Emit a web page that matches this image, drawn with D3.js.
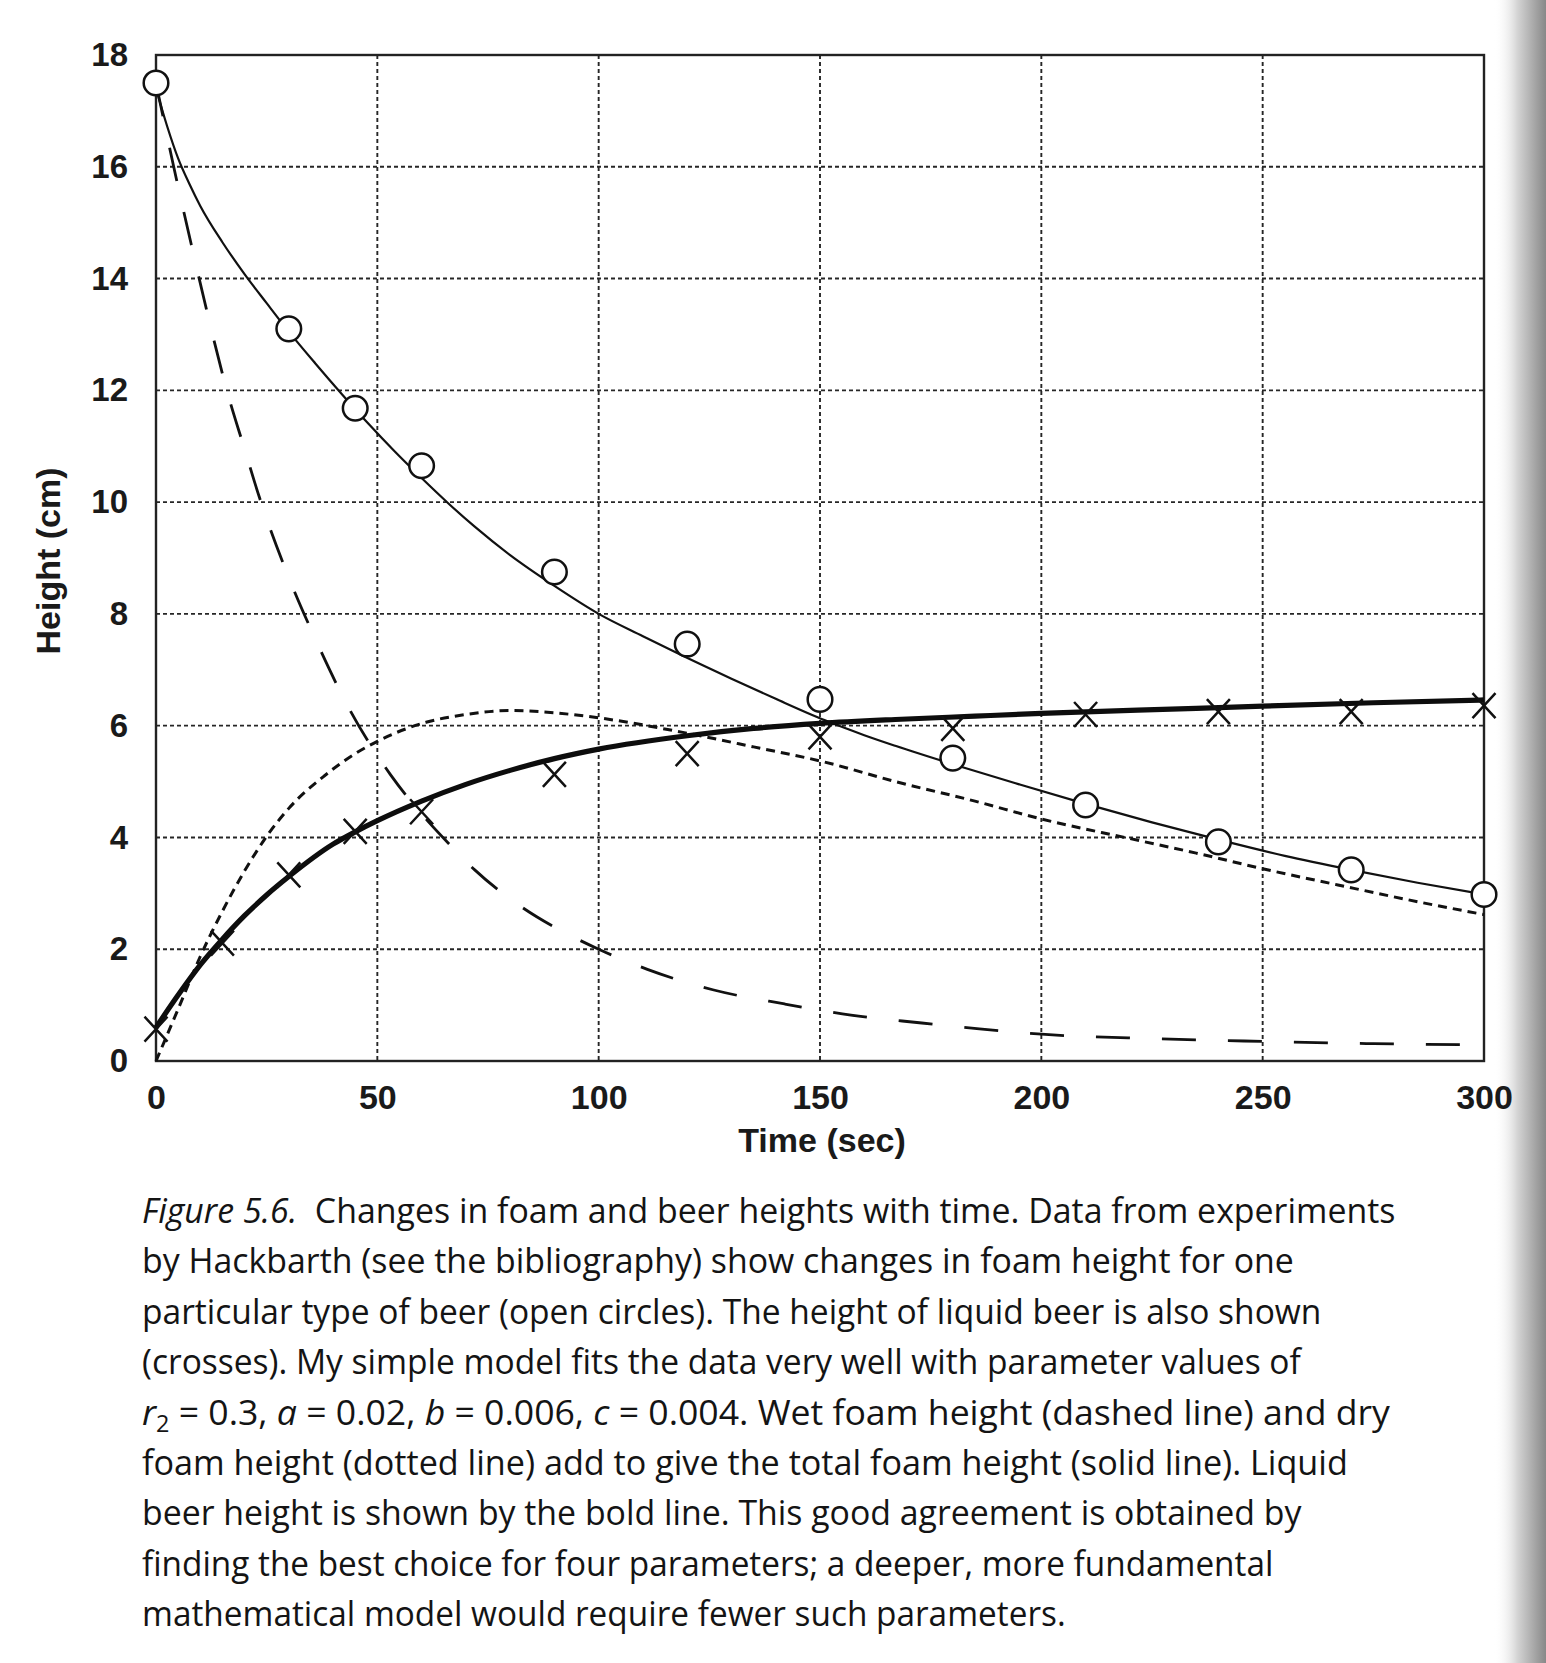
<!DOCTYPE html>
<html>
<head>
<meta charset="utf-8">
<script src="https://cdn.jsdelivr.net/npm/d3@7"></script>
<style>
  html, body { margin: 0; padding: 0; background: #ffffff; }
  svg { display: block; }
</style>
</head>
<body>
<svg id="chart" width="1546" height="1663"></svg>
<script>
// ---------------- DATA ----------------
// Measured foam height (open circles)
const foamTimes   = [0, 30, 45, 60, 90, 120, 150, 180, 210, 240, 270, 300];
const foamHeights = [17.5, 13.1, 11.68, 10.65, 8.75, 7.46, 6.47, 5.42, 4.58, 3.92, 3.42, 2.98];

// Measured liquid beer height (crosses)
const beerTimes   = [0, 15, 30, 45, 60, 90, 120, 150, 180, 210, 240, 270, 300];
const beerHeights = [0.57, 2.11, 3.33, 4.11, 4.46, 5.13, 5.5, 5.8, 5.95, 6.2, 6.25, 6.25, 6.36];

// Model: total foam height (solid thin line)
const totalTimes  = [0, 2.5, 5, 7.5, 10, 15, 20, 25, 30, 36, 42, 48, 54, 60, 66, 72, 80, 90, 100, 110, 119, 130, 140, 151, 160, 167, 180, 195, 210, 225, 240, 255, 270, 285, 300];
const totalModel  = [17.4, 16.73, 16.15, 15.7, 15.3, 14.65, 14.08, 13.56, 13.05, 12.48, 11.93, 11.4, 10.9, 10.43, 9.98, 9.56, 9.05, 8.5, 8.0, 7.6, 7.25, 6.84, 6.48, 6.1, 5.83, 5.64, 5.31, 4.95, 4.6, 4.27, 3.96, 3.67, 3.42, 3.19, 2.98];

// Model: liquid beer height (bold line)
const beerModelTimes = [0, 5, 10, 15, 20, 25, 30, 40, 45, 50, 60, 70, 80, 90, 100, 120, 135, 150, 167, 185, 200, 235, 250, 275, 300];
const beerModel      = [0.6, 1.18, 1.72, 2.18, 2.6, 2.97, 3.3, 3.88, 4.1, 4.3, 4.65, 4.95, 5.2, 5.41, 5.58, 5.82, 5.95, 6.04, 6.11, 6.17, 6.22, 6.31, 6.35, 6.41, 6.46];

// Model: wet foam height (dashed line)
const wetTimes = [0, 4, 8, 12, 16, 20, 23.3, 30, 36, 44, 53, 60, 66, 72, 80, 86, 93, 100, 111, 126, 142, 157, 173, 186, 200, 225, 250, 275, 300];
const wetModel = [17.5, 16.0, 14.6, 13.25, 12.0, 10.95, 10.1, 8.65, 7.55, 6.25, 5.12, 4.42, 3.9, 3.42, 2.9, 2.58, 2.27, 2.0, 1.64, 1.27, 1.02, 0.82, 0.68, 0.575, 0.48, 0.4, 0.35, 0.31, 0.29];

// Model: dry foam height (dotted line)
const dryTimes = [0, 2, 5, 10, 15, 20, 25, 30, 38, 45, 50, 61, 70, 80, 90, 100, 119, 135, 151, 167, 185, 200, 220, 235, 250, 267, 285, 300];
const dryModel = [0, 0.37, 0.93, 1.87, 2.68, 3.4, 4.02, 4.52, 5.1, 5.5, 5.72, 6.06, 6.2, 6.27, 6.23, 6.14, 5.88, 5.62, 5.35, 5.0, 4.65, 4.33, 3.98, 3.72, 3.44, 3.15, 2.85, 2.62];

// Axis ticks and titles
const xTicks = [0, 50, 100, 150, 200, 250, 300];
const yTicks = [0, 2, 4, 6, 8, 10, 12, 14, 16, 18];
const xTitle = "Time (sec)";
const yTitle = "Height (cm)";

// Caption lines
const captionLines = [
  [{t: "Figure 5.6.", i: true}, {t: "  Changes in foam and beer heights with time. Data from experiments"}],
  [{t: "by Hackbarth (see the bibliography) show changes in foam height for one"}],
  [{t: "particular type of beer (open circles). The height of liquid beer is also shown"}],
  [{t: "(crosses). My simple model fits the data very well with parameter values of"}],
  [{t: "r", i: true}, {t: "2", sub: true}, {t: " = 0.3, "}, {t: "a", i: true}, {t: " = 0.02, "}, {t: "b", i: true}, {t: " = 0.006, "}, {t: "c", i: true}, {t: " = 0.004. Wet foam height (dashed line) and dry"}],
  [{t: "foam height (dotted line) add to give the total foam height (solid line). Liquid"}],
  [{t: "beer height is shown by the bold line. This good agreement is obtained by"}],
  [{t: "finding the best choice for four parameters; a deeper, more fundamental"}],
  [{t: "mathematical model would require fewer such parameters."}]
];
const captionRightEdges = [1396, 1294, 1322, 1301, 1390, 1348, 1302, 1274, 1066];

// ---------------- LAYOUT ----------------
const svg = d3.select("#chart");
const L = 156, R = 1484, T = 55, B = 1061;
const x = d3.scaleLinear().domain([0, 300]).range([L, R]);
const y = d3.scaleLinear().domain([0, 18]).range([B, T]);

// background shading at right edge (scanned page)
const defs = svg.append("defs");
const grad = defs.append("linearGradient").attr("id", "edge").attr("x1", "0").attr("x2", "1").attr("y1", "0").attr("y2", "0");
grad.append("stop").attr("offset", "0").attr("stop-color", "#ffffff").attr("stop-opacity", 0);
grad.append("stop").attr("offset", "0.45").attr("stop-color", "#d4d4d4").attr("stop-opacity", 1);
grad.append("stop").attr("offset", "1").attr("stop-color", "#888888").attr("stop-opacity", 1);
svg.append("rect").attr("x", 1494).attr("y", 0).attr("width", 52).attr("height", 1663).attr("fill", "url(#edge)");

// grid
const grid = svg.append("g").attr("stroke", "#262626").attr("stroke-width", 1.9).attr("stroke-dasharray", "4,3");
grid.selectAll("line.v").data(xTicks.filter(d => d > 0 && d < 300)).join("line")
  .attr("x1", d => x(d)).attr("x2", d => x(d)).attr("y1", T).attr("y2", B);
grid.selectAll("line.h").data(yTicks.filter(d => d > 0 && d < 18)).join("line")
  .attr("x1", L).attr("x2", R).attr("y1", d => y(d)).attr("y2", d => y(d));

// frame
svg.append("rect").attr("x", L).attr("y", T).attr("width", R - L).attr("height", B - T)
  .attr("fill", "none").attr("stroke", "#222").attr("stroke-width", 2.4);

// axes
const fontAxis = "'Liberation Sans', Arial, Helvetica, sans-serif";
const gx = svg.append("g").attr("transform", `translate(0,${B})`)
  .call(d3.axisBottom(x).tickValues(xTicks).tickSize(0).tickPadding(24).tickFormat(d3.format("d")));
gx.select(".domain").remove();
gx.selectAll("text").attr("font-size", 34).attr("font-weight", "bold").attr("font-family", fontAxis).attr("fill", "#1a1a1a");

const gy = svg.append("g").attr("transform", `translate(${L},0)`)
  .call(d3.axisLeft(y).tickValues(yTicks).tickSize(0).tickPadding(28).tickFormat(d3.format("d")));
gy.select(".domain").remove();
gy.selectAll("text").attr("font-size", 33).attr("font-weight", "bold").attr("font-family", fontAxis).attr("fill", "#1a1a1a");

svg.append("text").attr("x", 822).attr("y", 1152).attr("text-anchor", "middle")
  .attr("font-size", 34).attr("font-weight", "bold").attr("font-family", fontAxis).attr("fill", "#1a1a1a").text(xTitle);
svg.append("text").attr("transform", "translate(60,561) rotate(-90)").attr("text-anchor", "middle")
  .attr("font-size", 34).attr("font-weight", "bold").attr("font-family", fontAxis).attr("fill", "#1a1a1a").text(yTitle);

// curves
const line = d3.line().x(d => x(d[0])).y(d => y(d[1])).curve(d3.curveMonotoneX);
const zip = (a, b) => a.map((t, i) => [t, b[i]]);

svg.append("path").datum(zip(dryTimes, dryModel)).attr("d", line)
  .attr("fill", "none").attr("stroke", "#111").attr("stroke-width", 3).attr("stroke-dasharray", "9,6");
svg.append("path").datum(zip(wetTimes, wetModel)).attr("d", line)
  .attr("fill", "none").attr("stroke", "#111").attr("stroke-width", 2.8).attr("stroke-dasharray", "34,32");
svg.append("path").datum(zip(totalTimes, totalModel)).attr("d", line)
  .attr("fill", "none").attr("stroke", "#111").attr("stroke-width", 2.2);
svg.append("path").datum(zip(beerModelTimes, beerModel)).attr("d", line)
  .attr("fill", "none").attr("stroke", "#0d0d0d").attr("stroke-width", 5.2);

// markers
svg.append("g").selectAll("circle").data(zip(foamTimes, foamHeights)).join("circle")
  .attr("cx", d => x(d[0])).attr("cy", d => y(d[1])).attr("r", 12.3)
  .attr("fill", "#fff").attr("stroke", "#111").attr("stroke-width", 2.5);
svg.append("g").selectAll("path").data(zip(beerTimes, beerHeights)).join("path")
  .attr("transform", d => `translate(${x(d[0])},${y(d[1])})`)
  .attr("d", "M-11.5,-12.5L11.5,12.5M-11.5,12.5L11.5,-12.5")
  .attr("fill", "none").attr("stroke", "#111").attr("stroke-width", 2.5);

// caption
const capFont = "'Open Sans', 'Noto Sans', sans-serif";
captionLines.forEach((parts, i) => {
  const baseline = 1223 + i * 50.4;
  const g = svg.append("g");
  const t = g.append("text").attr("x", 0).attr("y", 0)
    .attr("font-family", capFont).attr("font-size", 35).attr("fill", "#141414")
    .attr("xml:space", "preserve").style("white-space", "pre");
  let shifted = false;
  parts.forEach(p => {
    const ts = t.append("tspan").text(p.t);
    if (p.i) ts.attr("font-style", "italic");
    if (p.sub) { ts.attr("dy", 7).attr("font-size", 23); shifted = true; }
    else if (shifted) { ts.attr("dy", -7); shifted = false; }
  });
  const x0 = 142;
  const target = captionRightEdges[i] - x0;
  const len = t.node().getComputedTextLength();
  g.attr("transform", `translate(${x0},${baseline}) scale(${target / len},1)`);
});
</script>
</body>
</html>
